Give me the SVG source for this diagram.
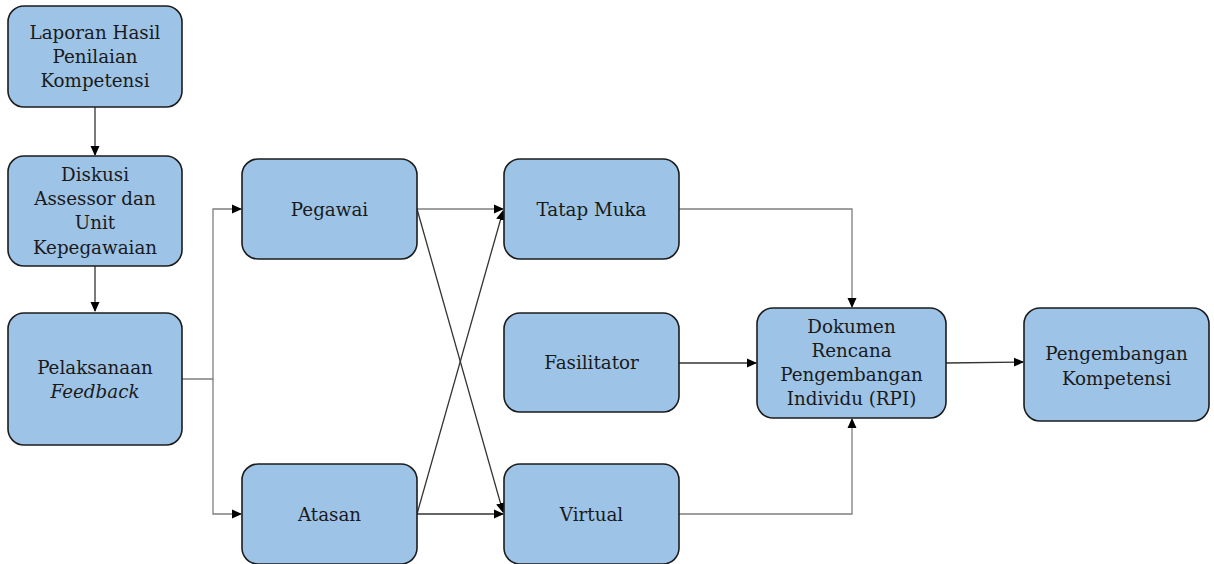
<svg xmlns="http://www.w3.org/2000/svg" width="1214" height="564" viewBox="0 0 1214 564">
  <style>
    .box { fill: #9dc3e6; stroke: #1c1c1c; stroke-width: 1.6; }
    .lbl { font-family: "DejaVu Serif", "Liberation Serif", serif; font-size: 18.3px; fill: #1a1a1a; text-anchor: middle; dominant-baseline: central; }
    .edge { fill: none; stroke: #7f7f7f; stroke-width: 1.3; }
    .dark { stroke: #333333; }
  </style>
  <defs>
    <marker id="arrow" markerWidth="10" markerHeight="10" refX="9" refY="5" orient="auto" markerUnits="userSpaceOnUse">
      <path d="M0,0.5 L10,5 L0,9.5 Z" fill="#000"/>
    </marker>
  </defs>
  <rect width="1214" height="564" fill="#ffffff"/>

  <g id="connectors">
    <path class="edge dark" d="M95,107 V155" marker-end="url(#arrow)"/>
    <path class="edge dark" d="M95,266 V311" marker-end="url(#arrow)"/>
    <path class="edge" d="M182,379 H213 V209 H241" marker-end="url(#arrow)"/>
    <path class="edge" d="M213,379 V514 H241" marker-end="url(#arrow)"/>
    <path class="edge" d="M417,209 H503" marker-end="url(#arrow)"/>
    <path class="edge dark" d="M417,209 L503,512" marker-end="url(#arrow)"/>
    <path class="edge dark" d="M417,514 L503,211" marker-end="url(#arrow)"/>
    <path class="edge dark" d="M417,514 H503" marker-end="url(#arrow)"/>
    <path class="edge" d="M679,209 H852 V307" marker-end="url(#arrow)"/>
    <path class="edge dark" d="M679,363 H756" marker-end="url(#arrow)"/>
    <path class="edge" d="M679,514 H852 V419" marker-end="url(#arrow)"/>
    <path class="edge dark" d="M946,363 L1023,362" marker-end="url(#arrow)"/>
  </g>

  <g id="laporan">
    <rect class="box" x="8" y="6" width="174" height="101" rx="16"/>
    <text class="lbl" x="95" y="32">Laporan Hasil</text>
    <text class="lbl" x="95" y="56">Penilaian</text>
    <text class="lbl" x="95" y="80">Kompetensi</text>
  </g>

  <g id="diskusi">
    <rect class="box" x="8" y="156" width="174" height="110" rx="16"/>
    <text class="lbl" x="95" y="174">Diskusi</text>
    <text class="lbl" x="95" y="198">Assessor dan</text>
    <text class="lbl" x="95" y="222">Unit</text>
    <text class="lbl" x="95" y="247">Kepegawaian</text>
  </g>

  <g id="pelaksanaan">
    <rect class="box" x="8" y="313" width="174" height="132" rx="16"/>
    <text class="lbl" x="95" y="367">Pelaksanaan</text>
    <text class="lbl" x="95" y="391" font-style="italic">Feedback</text>
  </g>

  <g id="pegawai">
    <rect class="box" x="242" y="159" width="175" height="100" rx="16"/>
    <text class="lbl" x="329.5" y="209">Pegawai</text>
  </g>

  <g id="atasan">
    <rect class="box" x="242" y="464" width="175" height="100" rx="16"/>
    <text class="lbl" x="329.5" y="514">Atasan</text>
  </g>

  <g id="tatap-muka">
    <rect class="box" x="504" y="159" width="175" height="100" rx="16"/>
    <text class="lbl" x="591.5" y="209">Tatap Muka</text>
  </g>

  <g id="fasilitator">
    <rect class="box" x="504" y="313" width="175" height="99" rx="16"/>
    <text class="lbl" x="591.5" y="362">Fasilitator</text>
  </g>

  <g id="virtual">
    <rect class="box" x="504" y="464" width="175" height="100" rx="16"/>
    <text class="lbl" x="591.5" y="514">Virtual</text>
  </g>

  <g id="dokumen-rpi">
    <rect class="box" x="757" y="308" width="189" height="110" rx="16"/>
    <text class="lbl" x="851.5" y="326">Dokumen</text>
    <text class="lbl" x="851.5" y="350">Rencana</text>
    <text class="lbl" x="851.5" y="374">Pengembangan</text>
    <text class="lbl" x="851.5" y="398">Individu (RPI)</text>
  </g>

  <g id="pengembangan">
    <rect class="box" x="1024" y="308" width="185" height="113" rx="16"/>
    <text class="lbl" x="1116.5" y="353">Pengembangan</text>
    <text class="lbl" x="1116.5" y="378">Kompetensi</text>
  </g>
</svg>
